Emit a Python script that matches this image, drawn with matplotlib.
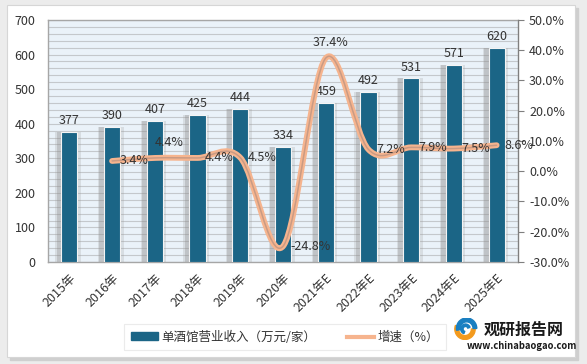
import numpy as np
import matplotlib.pyplot as plt
import matplotlib.patheffects as pe
from matplotlib.patches import Rectangle, PathPatch, Wedge
from matplotlib.path import Path
from matplotlib.lines import Line2D

plt.rcParams['font.family'] = ['Noto Sans CJK SC', 'DejaVu Sans']

# ---- data ----
years = ["2015年", "2016年", "2017年", "2018年", "2019年", "2020年",
         "2021年E", "2022年E", "2023年E", "2024年E", "2025年E"]
revenue = [377, 390, 407, 425, 444, 334, 459, 492, 531, 571, 620]
growth_years = [1, 2, 3, 4, 5, 6, 7, 8, 9, 10]
growth = [3.4, 4.4, 4.4, 4.5, -24.8, 37.4, 7.2, 7.9, 7.5, 8.6]

bar_label = "单酒馆营业收入（万元/家）"
line_label = "增速（%）"

W, H = 587, 364
BAR_C = "#1b6586"
LINE_C = "#f6b48e"
TXT = "#333333"

fig = plt.figure(figsize=(W / 100, H / 100), dpi=100, facecolor="#ececec")

# outer card with shadow
fig.patches.append(Rectangle((10 / W, 1 - 360 / H), 568 / W, 352 / H,
                             transform=fig.transFigure, color="#cfcfcf", zorder=-2))
fig.patches.append(Rectangle((7 / W, 1 - 357 / H), 568 / W, 352 / H,
                             transform=fig.transFigure, facecolor="white",
                             edgecolor="#d6d6d6", lw=0.8, zorder=-1))

ax = fig.add_axes([48 / W, 1 - 262 / H, 470 / W, 242 / H])
x = np.arange(len(years))
ax.set_xlim(-0.5, len(years) - 0.5)
ax.set_ylim(0, 700)
ax.set_facecolor("#eaf2f9")
ax.set_yticks(np.arange(0, 701, 100))
ax.set_yticks(np.arange(0, 701, 20), minor=True)
ax.grid(True, which="both", axis="y", color="#c4c8cc", lw=0.8, zorder=0)
ax.set_axisbelow(True)
ax.tick_params(axis="y", which="both", length=0, labelsize=9, colors=TXT, pad=9)
ax.tick_params(axis="x", length=0, pad=7)
for s in ax.spines.values():
    s.set_color("#a6a6a6")
    s.set_linewidth(1.0)

# bar shadows, then bars
ax.bar(x - 0.03, revenue, width=0.6, color="#a0a0a0", alpha=0.25, zorder=2, lw=0)
ax.bar(x - 0.05, revenue, width=0.5, color="#8a8a8a", alpha=0.3, zorder=2, lw=0)
ax.bar(x, revenue, width=0.38, color=BAR_C, edgecolor="#f4f4f4", lw=0.8, zorder=3)
for xi, v in zip(x, revenue):
    ax.text(xi, v + 14, f"{v}", ha="center", va="bottom", fontsize=9,
            color=TXT, zorder=6)

ax.set_xticks(x)
ax.set_xticklabels(years, rotation=45, ha="right", rotation_mode="anchor",
                   fontsize=9, color=TXT)

# growth line on the right axis, smoothed like the office chart (bezier)
ax2 = ax.twinx()
ax2.set_ylim(-30, 50)
ax2.set_yticks(np.arange(-30, 51, 10))
ax2.set_yticklabels([f"{v:.1f}%" for v in np.arange(-30, 51, 10)])
ax2.tick_params(axis="y", direction="out", length=4, color="#7f7f7f",
                labelsize=9, labelcolor=TXT, pad=4)
for s in ax2.spines.values():
    s.set_visible(False)
ax2.spines["right"].set_visible(True)
ax2.spines["right"].set_color("#7f7f7f")

pts = np.column_stack([growth_years, growth]).astype(float)
verts = [pts[0]]
codes = [Path.MOVETO]
n = len(pts)
for i in range(n - 1):
    p0 = pts[i - 1] if i > 0 else pts[i]
    p1, p2 = pts[i], pts[i + 1]
    p3 = pts[i + 2] if i + 2 < n else pts[i + 1]
    c1 = p1 + (p2 - p0) / 6
    c2 = p2 - (p3 - p1) / 6
    verts += [c1, c2, p2]
    codes += [Path.CURVE4] * 3
curve = PathPatch(Path(verts, codes), fill=False, edgecolor="#c99b84", lw=1.1,
                  zorder=4, capstyle="round",
                  path_effects=[pe.Stroke(linewidth=4.2, foreground=LINE_C),
                                pe.Normal()])
ax2.add_patch(curve)

# percent labels
offsets = {2: (0, 3.0, "left", "bottom"), 6: (0.12, 3.0, "center", "bottom")}
for xi, g in zip(growth_years, growth):
    dx, dy, ha, va = offsets.get(xi, (0.18, 0, "left", "center"))
    ax2.text(xi + dx, g + dy, f"{g}%", ha=ha, va=va, fontsize=9,
             color=TXT, zorder=6)

# legend
handles = [Rectangle((0, 0), 1, 1, color=BAR_C),
           Line2D([0], [0], color=LINE_C, lw=3)]
leg = fig.legend(handles, [bar_label, line_label], loc="center",
                 bbox_to_anchor=(285 / W, 1 - 337 / H), ncol=2, fontsize=9,
                 frameon=True, fancybox=False, edgecolor="#e6e6e6",
                 handlelength=2.2, handleheight=0.55, handletextpad=0.3,
                 columnspacing=2.4, borderpad=0.5, borderaxespad=0)
leg.get_frame().set_linewidth(0.8)
for t in leg.get_texts():
    t.set_color(TXT)

# watermark logo
fig.text(484 / W, 1 - 330 / H, "观研报告网", fontsize=11.5, fontweight="bold",
         color="#1a1a1a", va="center", ha="left")
fig.text(522 / W, 1 - 346 / H, "www.chinabaogao.com", fontsize=6.8,
         fontweight="bold", color="#1a1a1a", va="center", ha="center")
lax = fig.add_axes([450 / W, 1 - 340 / H, 30 / W, 22 / H])
lax.set_xlim(-1.4, 1.4)
lax.set_ylim(-1, 1)
lax.axis("off")
lax.add_patch(Wedge((0, 0), 0.95, 160, 360, width=0.35, color="#f39a1e"))
lax.add_patch(Wedge((0.15, 0.05), 0.95, 0, 190, width=0.35, color="#1a7fc1"))
lax.add_patch(Wedge((0.05, 0.0), 0.45, 20, 250, width=0.22, color="#1a7fc1"))

fig.savefig("out.png", dpi=100, facecolor=fig.get_facecolor())
